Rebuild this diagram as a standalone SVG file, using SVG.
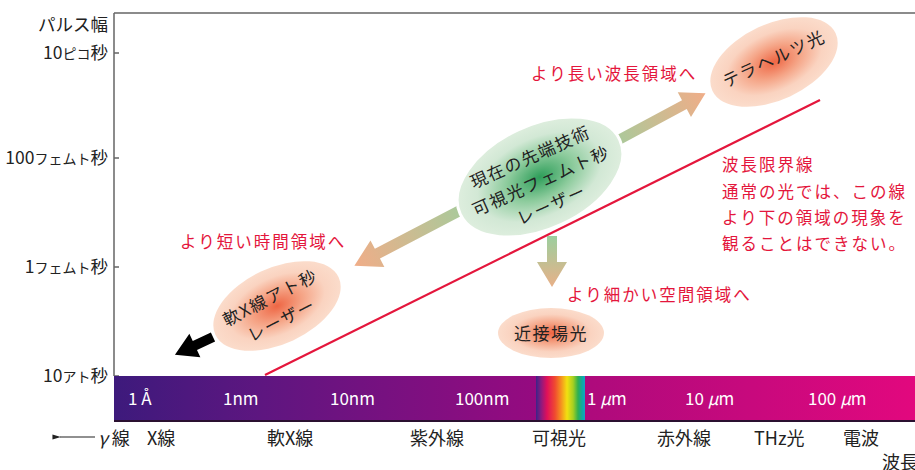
<svg xmlns="http://www.w3.org/2000/svg" width="915" height="470" viewBox="0 0 915 470">
<defs>
<style>
text{font-family:"Noto Sans CJK JP","Noto Sans",sans-serif}
.ax{font-size:17.5px;fill:#222;text-anchor:end}
.sm{font-size:14px}
.bar{font-size:17px;fill:#fff}
.lab{font-size:18px;fill:#222}
.red{font-size:16.5px;fill:#e4163c;letter-spacing:2px}
.el{font-size:17px;fill:#222;text-anchor:middle;letter-spacing:1.5px}
.frame{stroke:#666;stroke-width:1.5;fill:none}
</style>
<linearGradient id="barL" x1="0" y1="0" x2="1" y2="0">
<stop offset="0" stop-color="#3d1a7c"/><stop offset="0.35" stop-color="#5e1680"/><stop offset="0.7" stop-color="#7c1080"/><stop offset="1" stop-color="#960a80"/>
</linearGradient>
<linearGradient id="barR" x1="0" y1="0" x2="1" y2="0">
<stop offset="0" stop-color="#ad0a7c"/><stop offset="1" stop-color="#e2087e"/>
</linearGradient>
<linearGradient id="rainbow" x1="0" y1="0" x2="1" y2="0">
<stop offset="0" stop-color="#3a2488"/><stop offset="0.1" stop-color="#8a1a80"/><stop offset="0.22" stop-color="#e0105a"/><stop offset="0.38" stop-color="#f04a30"/><stop offset="0.5" stop-color="#f59020"/><stop offset="0.62" stop-color="#f2e010"/><stop offset="0.74" stop-color="#a8d020"/><stop offset="0.84" stop-color="#30b050"/><stop offset="0.92" stop-color="#10a8a0"/><stop offset="1" stop-color="#10a8d0"/>
</linearGradient>
<radialGradient id="orange" cx="0.5" cy="0.5" r="0.5">
<stop offset="0" stop-color="#ee6644"/><stop offset="0.4" stop-color="#f5a486"/><stop offset="0.75" stop-color="#fad3c0"/><stop offset="1" stop-color="#fbdccb"/>
</radialGradient>
<radialGradient id="green" cx="0.5" cy="0.5" r="0.5">
<stop offset="0" stop-color="#2e9e5a"/><stop offset="0.4" stop-color="#8ccb9c"/><stop offset="0.75" stop-color="#d2e8d5"/><stop offset="1" stop-color="#deeede"/>
</radialGradient>
<linearGradient id="arrG" x1="0" y1="0" x2="1" y2="0">
<stop offset="0" stop-color="#9ccf9e"/><stop offset="1" stop-color="#f0ad88"/>
</linearGradient>
<linearGradient id="arrV" x1="0" y1="0" x2="0" y2="1">
<stop offset="0" stop-color="#9ccf9e"/><stop offset="1" stop-color="#e8b088"/>
</linearGradient>
<marker id="tipS" viewBox="0 0 10 10" refX="1" refY="5" markerWidth="7" markerHeight="7" orient="auto-start-reverse">
<path d="M10,2 L0,5 L10,8 Z" fill="#222"/>
</marker>
</defs>

<g id="axis">
<path class="frame" d="M114,13 H915 M114,13 V376 M114,53 H119 M114,158 H119 M114,267 H119 M114,376 H119"/>
<text class="ax" x="108" y="31">パルス幅</text>
<text class="ax" x="108" y="59">10<tspan class="sm">ピコ</tspan>秒</text>
<text class="ax" x="108" y="164">100<tspan class="sm">フェムト</tspan>秒</text>
<text class="ax" x="108" y="273">1<tspan class="sm">フェムト</tspan>秒</text>
<text class="ax" x="108" y="382">10<tspan class="sm">アト</tspan>秒</text>
</g>

<g id="spectrum">
<rect x="114" y="376" width="423" height="45" fill="url(#barL)"/>
<rect x="536" y="376" width="50" height="45" fill="url(#rainbow)"/>
<rect x="585" y="376" width="330" height="45" fill="url(#barR)"/>
<line x1="114" y1="421" x2="915" y2="421" stroke="#2a1030" stroke-width="2"/>
<text class="bar" x="128" y="405">1 Å</text>
<text class="bar" x="223" y="405">1nm</text>
<text class="bar" x="330" y="405">10nm</text>
<text class="bar" x="455" y="405">100nm</text>
<text class="bar" x="587" y="405">1 <tspan font-style="italic">μ</tspan>m</text>
<text class="bar" x="685" y="405">10 <tspan font-style="italic">μ</tspan>m</text>
<text class="bar" x="808" y="405">100 <tspan font-style="italic">μ</tspan>m</text>
</g>

<g id="bands">
<line x1="60" y1="437" x2="95" y2="437" stroke="#222" stroke-width="1.2" marker-start="url(#tipS)"/>
<text class="lab" x="98" y="445"><tspan font-style="italic">γ</tspan> 線</text>
<text class="lab" x="147" y="445">X線</text>
<text class="lab" x="267" y="445">軟X線</text>
<text class="lab" x="410" y="445">紫外線</text>
<text class="lab" x="532" y="445">可視光</text>
<text class="lab" x="657" y="445">赤外線</text>
<text class="lab" x="754" y="445">THz光</text>
<text class="lab" x="843" y="445">電波</text>
<text class="lab" x="882" y="469">波長</text>
</g>

<g id="limit-line">
<line x1="265" y1="375" x2="820" y2="100" stroke="#e4163c" stroke-width="2.2"/>
</g>

<g id="connectors">
<path transform="translate(598,151) rotate(-28.2)" d="M0,-5 H98 V-14 L122,0 L98,14 V5 H0 Z" fill="url(#arrG)"/>
<path transform="translate(482,199) rotate(152.4)" d="M0,-5.5 H118 V-15 L144,0 L118,15 V5.5 H0 Z" fill="url(#arrG)"/>
<path d="M547,236 H557 V262 H567 L552,287 L537,262 H547 Z" fill="url(#arrV)"/>
<path transform="translate(213,337) rotate(155)" d="M0,-5 H20 V-13 L42,0 L20,13 V5 H0 Z" fill="#000"/>
</g>

<g id="node-terahertz">
<ellipse cx="774" cy="62" rx="68" ry="38" transform="rotate(-25 774 62)" fill="url(#orange)"/>
<text class="el" transform="translate(774,59) rotate(-25)" y="6" letter-spacing="2">テラヘルツ光</text>
</g>

<g id="node-current">
<ellipse cx="540" cy="177" rx="88" ry="52" transform="rotate(-25 540 177)" fill="url(#green)" stroke="#fff" stroke-width="3"/>
<g transform="translate(541,181) rotate(-24)">
<text class="el" y="-20">現在の先端技術</text>
<text class="el" y="6">可視光フェムト秒</text>
<text class="el" y="32">レーザー</text>
</g>
</g>

<g id="node-softx">
<ellipse cx="277" cy="306" rx="68" ry="38" transform="rotate(-25 277 306)" fill="url(#orange)"/>
<g transform="translate(276,309) rotate(-27)">
<text class="el" y="-6.5">軟X線アト秒</text>
<text class="el" y="18.5">レーザー</text>
</g>
</g>

<g id="node-nearfield">
<ellipse cx="551" cy="333" rx="53" ry="25" fill="url(#orange)"/>
<text class="el" x="551" y="340" font-size="18" letter-spacing="0.5">近接場光</text>
</g>

<g id="labels">
<text class="red" x="531" y="80">より長い波長領域へ</text>
<text class="red" x="180" y="248">より短い時間領域へ</text>
<text class="red" x="567" y="301">より細かい空間領域へ</text>
<text class="red" x="722" y="171">波長限界線</text>
<text class="red" x="722" y="198">通常の光では、この線</text>
<text class="red" x="722" y="224">より下の領域の現象を</text>
<text class="red" x="722" y="250">観ることはできない。</text>
</g>
</svg>
